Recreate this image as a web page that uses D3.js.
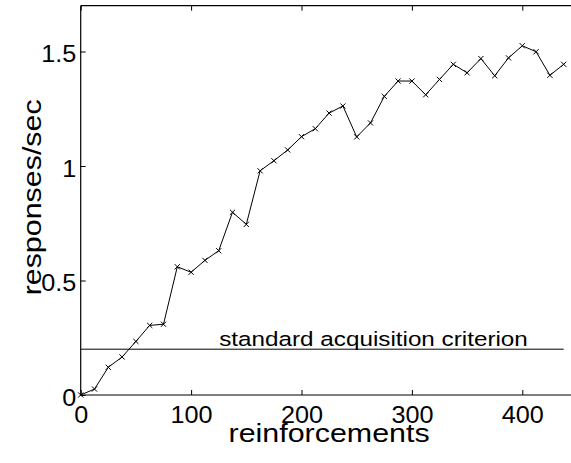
<!DOCTYPE html>
<html>
<head>
<meta charset="utf-8">
<script src="https://cdn.jsdelivr.net/npm/d3@7"></script>
<style>
  body { margin: 0; background: #fff; }
  text { font-family: "Liberation Sans", Arial, Helvetica, sans-serif; fill: #000; }
</style>
</head>
<body>
<div id="chart"></div>
<script>
// data
var reinforcements = [0, 12.5, 25, 37.5, 50, 62.5, 75, 87.5, 100, 112.5, 125, 137.5,
  150, 162.5, 175, 187.5, 200, 212.5, 225, 237.5, 250, 262.5, 275, 287.5,
  300, 312.5, 325, 337.5, 350, 362.5, 375, 387.5, 400, 412.5, 425, 437.5];
var rates = [0, 0.026, 0.121, 0.166, 0.234, 0.304, 0.309, 0.560, 0.536, 0.588, 0.630, 0.798,
  0.745, 0.979, 1.023, 1.070, 1.128, 1.163, 1.231, 1.262, 1.127, 1.188, 1.304, 1.371,
  1.371, 1.311, 1.378, 1.444, 1.407, 1.469, 1.394, 1.472, 1.525, 1.499, 1.396, 1.444];
var xTicks = [0, 100, 200, 300, 400];
var yTicks = [0, 0.5, 1, 1.5];
var criterion = 0.2;
var criterionLabel = "standard acquisition criterion";

var svgWidth = 571;
var svgHeight = 463;
var margin = { top: 5.7, left: 80.7 };
var width = 496.8;   // runs past the right edge, like the original
var height = 389.3;
var stretch = 1.17;  // text in the source is a bit wide

var svg = d3.select("#chart")
  .append("svg")
  .attr("width", svgWidth)
  .attr("height", svgHeight);

var g = svg.append("g")
  .attr("transform", `translate(${margin.left}, ${margin.top})`);

var x = d3.scaleLinear().domain([0, 450]).range([0, width]);
var y = d3.scaleLinear().domain([0, 1.7]).range([height, 0]);

// axes (ticks point inward)
var bottomAxis = g.append("g")
  .attr("transform", `translate(0, ${height})`)
  .call(d3.axisBottom(x).tickValues(xTicks).tickSize(-5).tickFormat(d3.format("d")));
bottomAxis.selectAll("text")
  .attr("y", 28).attr("dy", 0)
  .style("font-size", "24px")
  .attr("transform", "scale(1.05,1)");

var topAxis = g.append("g")
  .call(d3.axisTop(x).tickValues(xTicks).tickSize(-5).tickFormat(""));

var leftAxis = g.append("g")
  .call(d3.axisLeft(y).tickValues(yTicks).tickSize(-5).tickFormat(d => d3.format("")(d)));
leftAxis.selectAll("text")
  .attr("x", -4.5 / 1.05).attr("dy", "0.42em")
  .style("font-size", "24px")
  .attr("transform", "scale(1.05,1)");

g.selectAll(".domain").attr("stroke", "#000").attr("stroke-width", 1.2);
g.selectAll(".tick line").attr("stroke", "#000");
// no right-hand axis line; the box's left side is drawn by axisLeft
leftAxis.select(".domain").attr("d", `M0,${height}V0`);
bottomAxis.select(".domain").attr("d", `M0,0H${width}`);
topAxis.select(".domain").attr("d", `M0,0H${width}`);

// criterion line and label
g.append("line")
  .attr("x1", x(0)).attr("x2", x(437.5))
  .attr("y1", y(criterion)).attr("y2", y(criterion))
  .attr("stroke", "#000").attr("stroke-width", 1);

g.append("text")
  .attr("x", x(125.5)).attr("y", y(criterion) - 3.5)
  .attr("textLength", x(405) - x(125.5))
  .attr("lengthAdjust", "spacingAndGlyphs")
  .style("font-size", "20.5px")
  .text(criterionLabel);

// data line
var line = d3.line()
  .x((d, i) => x(reinforcements[i]))
  .y(d => y(d));

g.append("path")
  .datum(rates)
  .attr("d", line)
  .attr("fill", "none")
  .attr("stroke", "#000")
  .attr("stroke-width", 1);

// x markers
var m = 2.6;
g.selectAll(".mark")
  .data(rates)
  .enter()
  .append("path")
  .attr("class", "mark")
  .attr("d", (d, i) => {
    var cx = x(reinforcements[i]), cy = y(d);
    return `M${cx - m},${cy - m}L${cx + m},${cy + m}M${cx - m},${cy + m}L${cx + m},${cy - m}`;
  })
  .attr("stroke", "#000")
  .attr("stroke-width", 1);

// axis labels
svg.append("text")
  .attr("transform", `translate(${margin.left + width / 2}, 441.7) scale(${stretch},1)`)
  .attr("text-anchor", "middle")
  .style("font-size", "26px")
  .text("reinforcements");

svg.append("text")
  .attr("transform", `translate(41, ${margin.top + height / 2 - 3}) rotate(-90) scale(${stretch},1)`)
  .attr("text-anchor", "middle")
  .style("font-size", "26px")
  .text("responses/sec");
</script>
</body>
</html>
